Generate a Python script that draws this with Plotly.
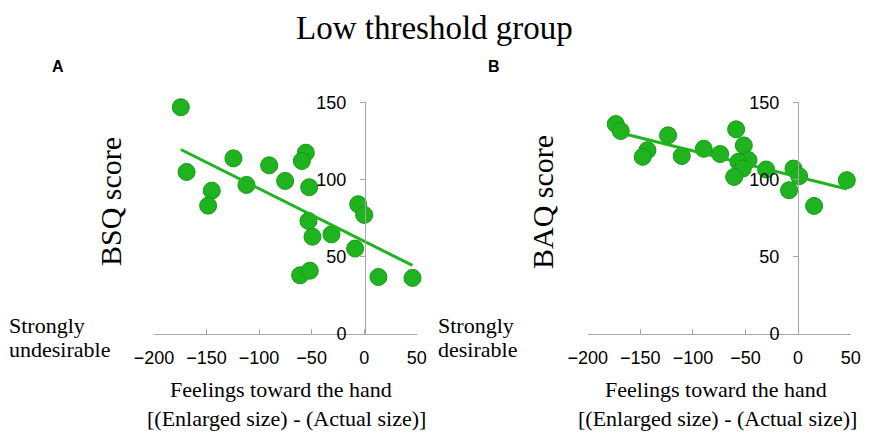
import numpy as np
import plotly.graph_objects as go

# ---------------- data ----------------
feel_A = [-174.5, -169, -124.4, -145, -148.5, -112, -90.4, -75.2, -55.5, -59.3, -52.3,
          -53, -49.2, -31.1, -5.7, 0, -8.6, -60.9, -51.7, 13.6, 46]
bsq = [146.8, 104.9, 113.7, 92.8, 83.1, 96.5, 109.2, 99.1, 117.4, 112.0, 95.0,
       73.2, 63.0, 64.5, 84.0, 77.1, 55.3, 38.0, 41.0, 36.9, 36.3]

feel_B = [-173.3, -168.6, -123.6, -143.2, -147.7, -110.6, -89.7, -74.1, -58.9, -51.6,
          -47.2, -56.7, -52.6, -60.8, -30.4, -4.4, 1, -8.6, 15.2, 46.3]
baq = [135.9, 131.4, 128.6, 119.0, 114.7, 115.2, 119.9, 116.5, 132.5, 122.1,
       112.6, 111.5, 107.1, 101.7, 106.5, 107.1, 102.2, 93.1, 82.9, 99.6]

x_ticks = [-200, -150, -100, -50, 0, 50]
y_ticks = [0, 50, 100, 150]

title_text = "Low threshold group"
x_title_1 = "Feelings toward the hand"
x_title_2 = "[(Enlarged size) - (Actual size)]"

# ---------------- style ----------------
W, H = 892, 445
OFF = 8  # page body margin compensation
GREEN = "#1fb41f"
EDGE = "#149a14"
AXC = "#a6a6a6"
SERIF = "Liberation Serif, Times New Roman, serif"
SANS = "Liberation Sans, Arial, sans-serif"


def fx(px):
    return (px - OFF) / W


def fy(py):
    return 1 - (py - OFF) / H


def fit_line(x, y):
    x = np.asarray(x, float)
    y = np.asarray(y, float)
    m, b = np.polyfit(x, y, 1)
    xs = np.array([x.min(), x.max()])
    return xs, m * xs + b


fig = go.Figure()

for xv, yv, xa, ya in [(feel_A, bsq, "x", "y"), (feel_B, baq, "x2", "y2")]:
    fig.add_trace(go.Scatter(
        x=xv, y=yv, mode="markers", xaxis=xa, yaxis=ya, cliponaxis=False,
        marker=dict(size=17, color=GREEN, line=dict(color=EDGE, width=1)),
        showlegend=False, hoverinfo="skip"))
    lx, ly = fit_line(xv, yv)
    fig.add_trace(go.Scatter(
        x=lx, y=ly, mode="lines", xaxis=xa, yaxis=ya, cliponaxis=False,
        line=dict(color=GREEN, width=3), showlegend=False, hoverinfo="skip"))

x_common = dict(range=[-200, 50], tickvals=x_ticks, showline=True, linecolor=AXC,
                linewidth=1, ticks="inside", ticklen=5, tickcolor=AXC, showgrid=False,
                zeroline=False, tickfont=dict(family=SANS, size=18, color="black"),
                ticklabelstandoff=7, fixedrange=True, automargin=False)
y_common = dict(range=[0, 150], tickvals=y_ticks, showline=True, linecolor=AXC,
                linewidth=1, ticks="outside", ticklen=5, tickcolor=AXC, showgrid=False,
                zeroline=False, tickfont=dict(family=SANS, size=18, color="black"),
                ticklabelstandoff=10, fixedrange=True, anchor="free", automargin=False)

y_dom = [fy(334), fy(102.3)]
fig.update_layout(
    width=W, height=H, autosize=False,
    margin=dict(l=0, r=0, t=0, b=0, pad=0, autoexpand=False),
    paper_bgcolor="white", plot_bgcolor="rgba(0,0,0,0)",
    xaxis=dict(domain=[fx(154), fx(416.7)], anchor="y", **x_common),
    yaxis=dict(domain=y_dom, position=fx(365), **y_common),
    xaxis2=dict(domain=[fx(587.7), fx(850.7)], anchor="y2", **x_common),
    yaxis2=dict(domain=y_dom, position=fx(798), **y_common),
)

ann = []


def add(text, x, y, size, family=SERIF, xanchor="center", angle=0, bold=False,
        yanchor="middle"):
    if bold:
        text = "<b>" + text + "</b>"
    ann.append(dict(text=text, x=fx(x), y=fy(y), xref="paper", yref="paper",
                    showarrow=False, xanchor=xanchor, yanchor=yanchor, borderpad=0,
                    textangle=angle, font=dict(family=family, size=size, color="black")))


add(title_text, 434.7, 9, 33, yanchor="top")
add("A", 58, 66, 16, family=SANS, bold=True)
add("B", 494, 66, 16, family=SANS, bold=True)
add("BSQ score", 110, 202, 30, angle=-90)
add("BAQ score", 542, 202, 30, angle=-90)
add(x_title_1, 281, 389, 22)
add(x_title_2, 286, 418, 22)
add(x_title_1, 715.5, 389, 22)
add(x_title_2, 717.5, 418, 22)
add("Strongly", 8, 325, 22, xanchor="left")
add("undesirable", 8, 349, 22, xanchor="left")
add("Strongly", 437, 325, 22, xanchor="left")
add("desirable", 437, 349, 22, xanchor="left")

fig.update_layout(annotations=ann)
fig.write_html("out.html")
